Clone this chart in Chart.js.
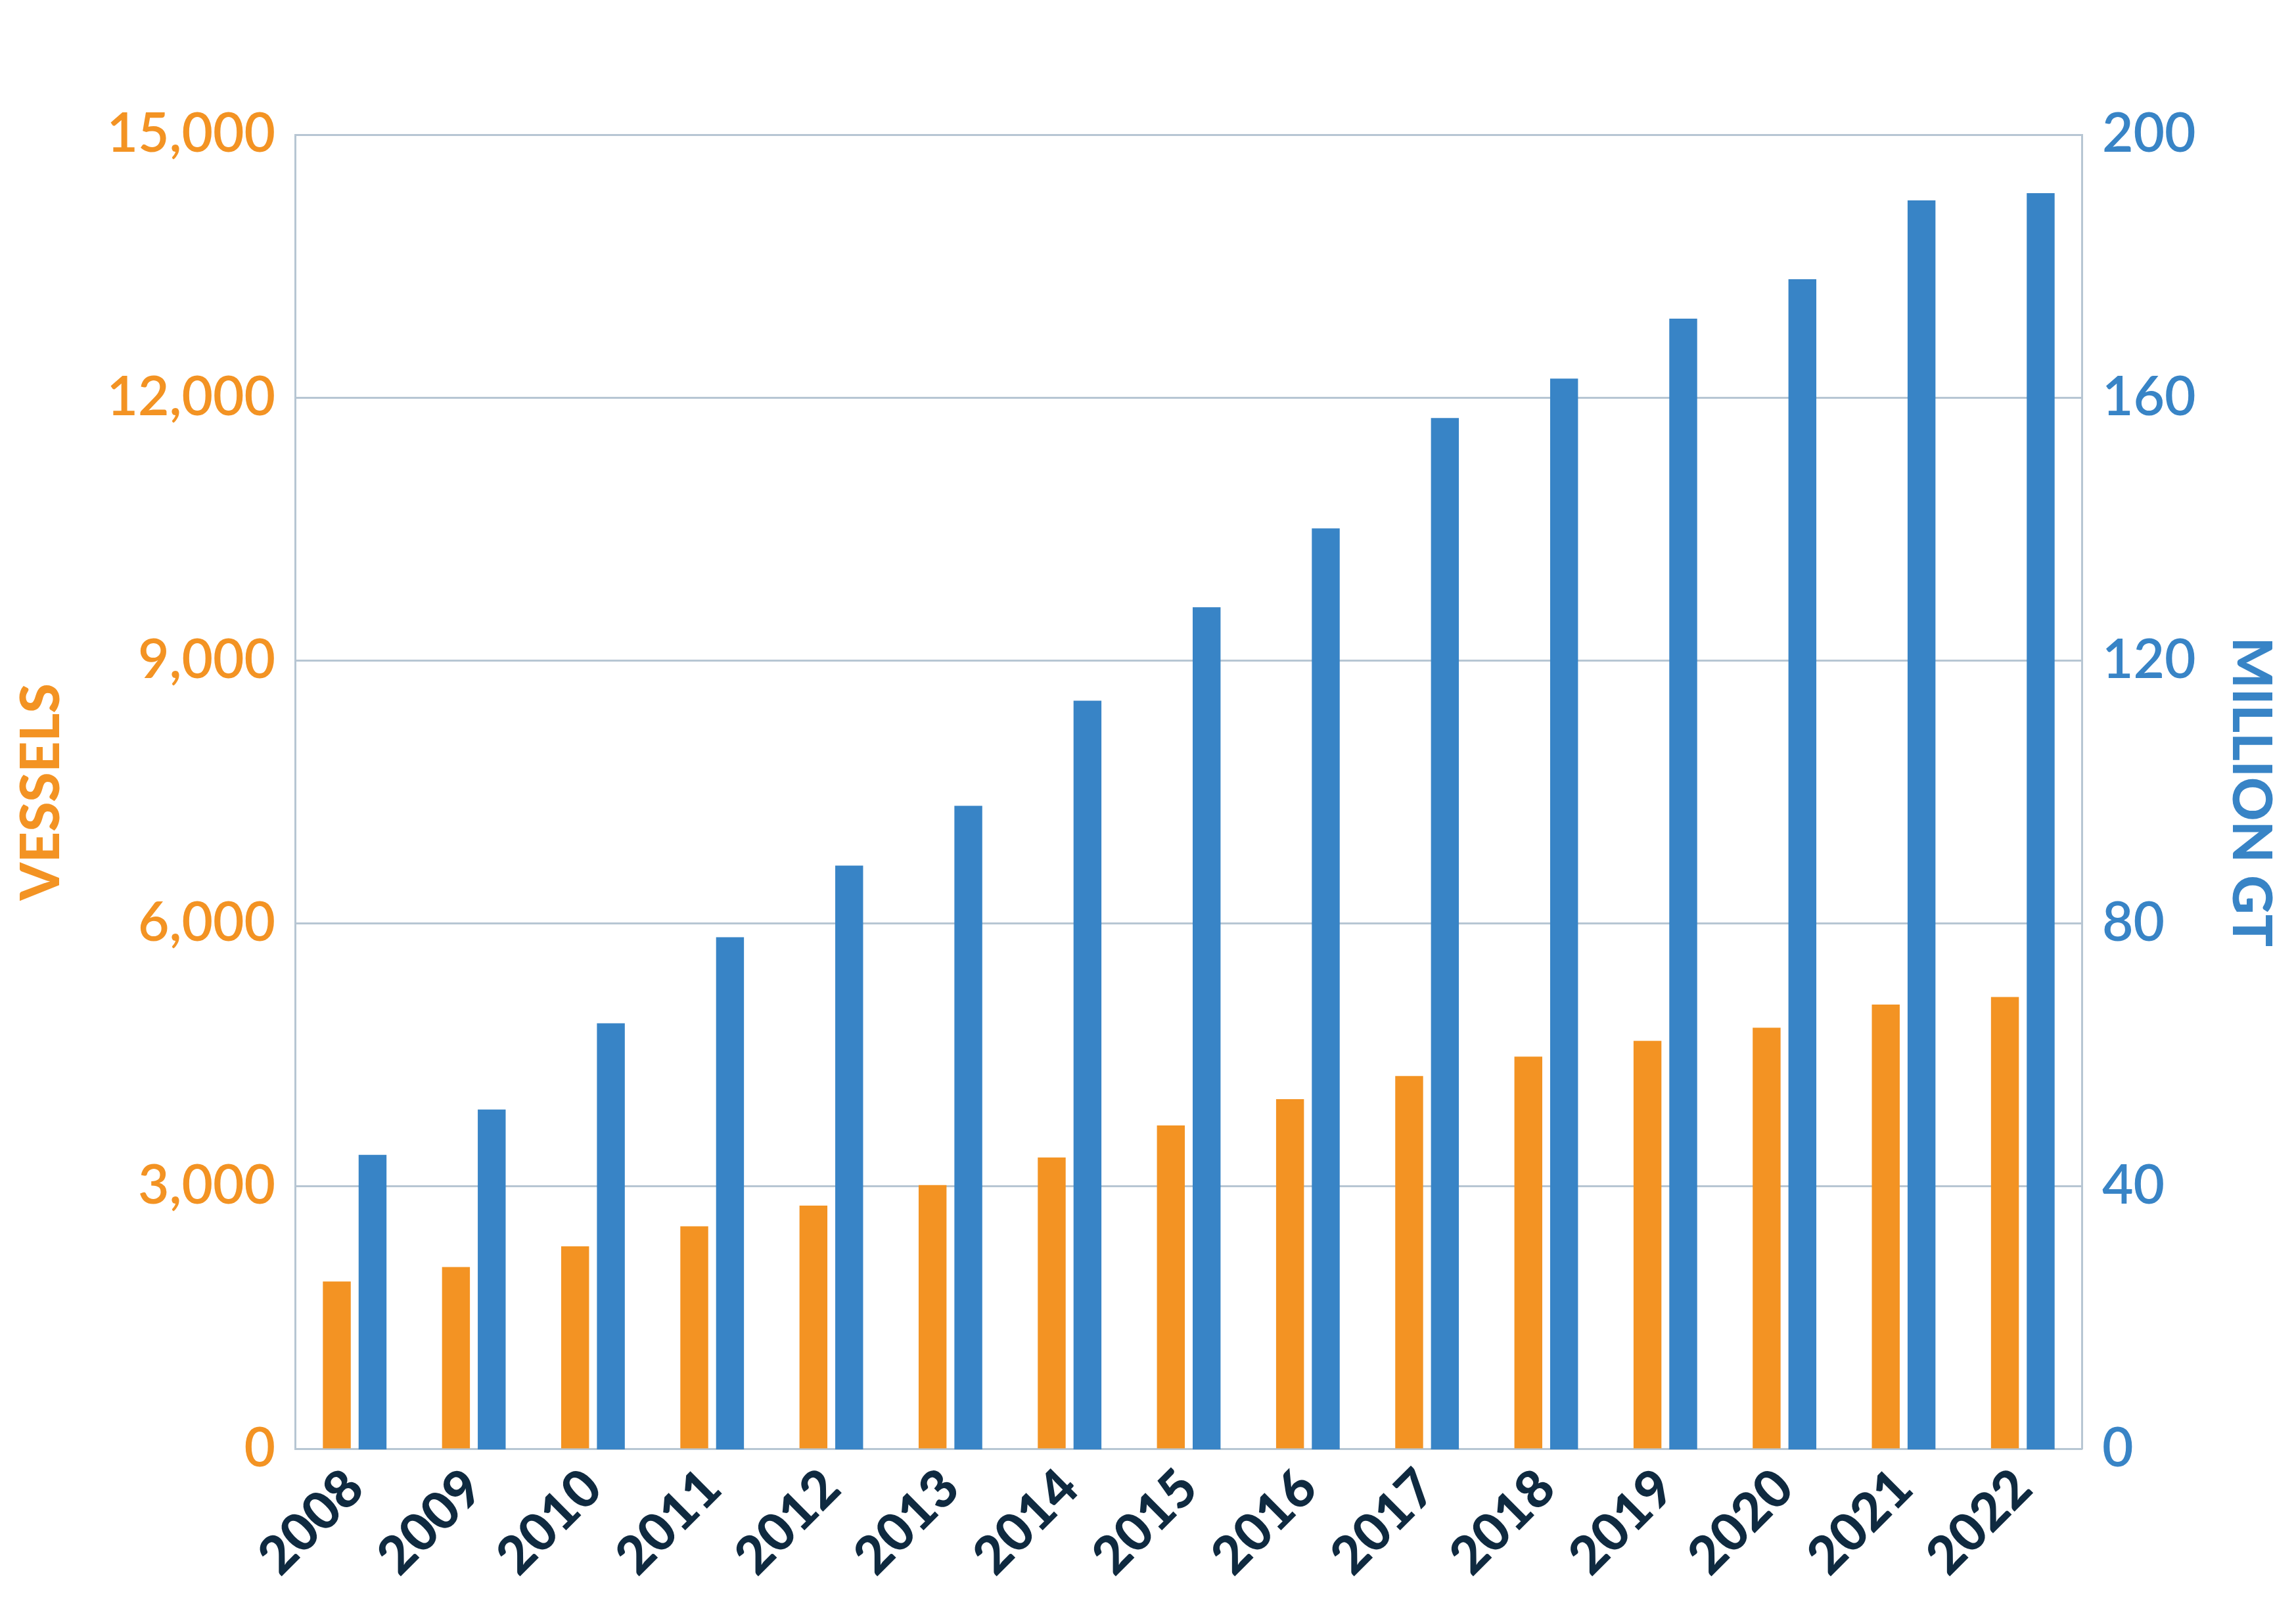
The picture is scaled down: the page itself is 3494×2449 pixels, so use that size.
<!DOCTYPE html>
<html><head><meta charset="utf-8">
<script src="https://cdn.jsdelivr.net/npm/chart.js@4"></script>
<style>html,body{margin:0;padding:0;background:#fff;}canvas{display:block;}</style>
</head><body>
<canvas id="c" width="3494" height="2449"></canvas>
<script>
const years = ['2008','2009','2010','2011','2012','2013','2014','2015','2016','2017','2018','2019','2020','2021','2022'];
const vessels = [1915,2080,2315,2545,2780,3015,3330,3695,3995,4260,4480,4660,4810,5075,5160];
const millionGT = [44.8,51.7,64.8,77.9,88.8,97.9,113.9,128.1,140.1,156.9,162.9,172.0,178.0,190.0,191.1];
const ORANGE='#f39323', BLUE='#3884c6', NAVY='#0f2a40', GRID='#b7c6d3';
new Chart(document.getElementById('c'),{
  type:'bar',
  data:{labels:years,datasets:[
    {label:'Vessels',data:vessels,backgroundColor:ORANGE,yAxisID:'y',categoryPercentage:0.6,barPercentage:0.78},
    {label:'Million GT',data:millionGT,backgroundColor:BLUE,yAxisID:'y1',categoryPercentage:0.6,barPercentage:0.78}
  ]},
  options:{
    responsive:false,devicePixelRatio:1,animation:false,
    layout:{padding:{top:205,left:10,right:0,bottom:20}},
    plugins:{legend:{display:false},tooltip:{enabled:false}},
    scales:{
      x:{grid:{display:false,drawTicks:false},border:{color:GRID,width:3},
        ticks:{color:NAVY,font:{family:'Lato',size:80,weight:'900'},maxRotation:45,minRotation:45,padding:12}},
      y:{position:'left',min:0,max:15000,
        ticks:{stepSize:3000,color:ORANGE,font:{family:'Lato',size:82,weight:'600'},padding:30,
          callback:v=>v.toLocaleString('en-US')},
        grid:{color:GRID,lineWidth:3,drawTicks:false},border:{color:GRID,width:3},
        title:{display:true,text:'VESSELS',color:ORANGE,font:{family:'Lato',size:82,weight:'900'},padding:{bottom:20}}},
      y1:{position:'right',min:0,max:200,
        ticks:{stepSize:40,color:BLUE,font:{family:'Lato',size:82,weight:'600'},padding:30},
        grid:{display:false,drawTicks:false},border:{color:GRID,width:3},
        title:{display:true,text:'MILLION GT',color:BLUE,font:{family:'Lato',size:82,weight:'900'},padding:{top:20}}}
    }
  }
});
</script>
</body></html>
